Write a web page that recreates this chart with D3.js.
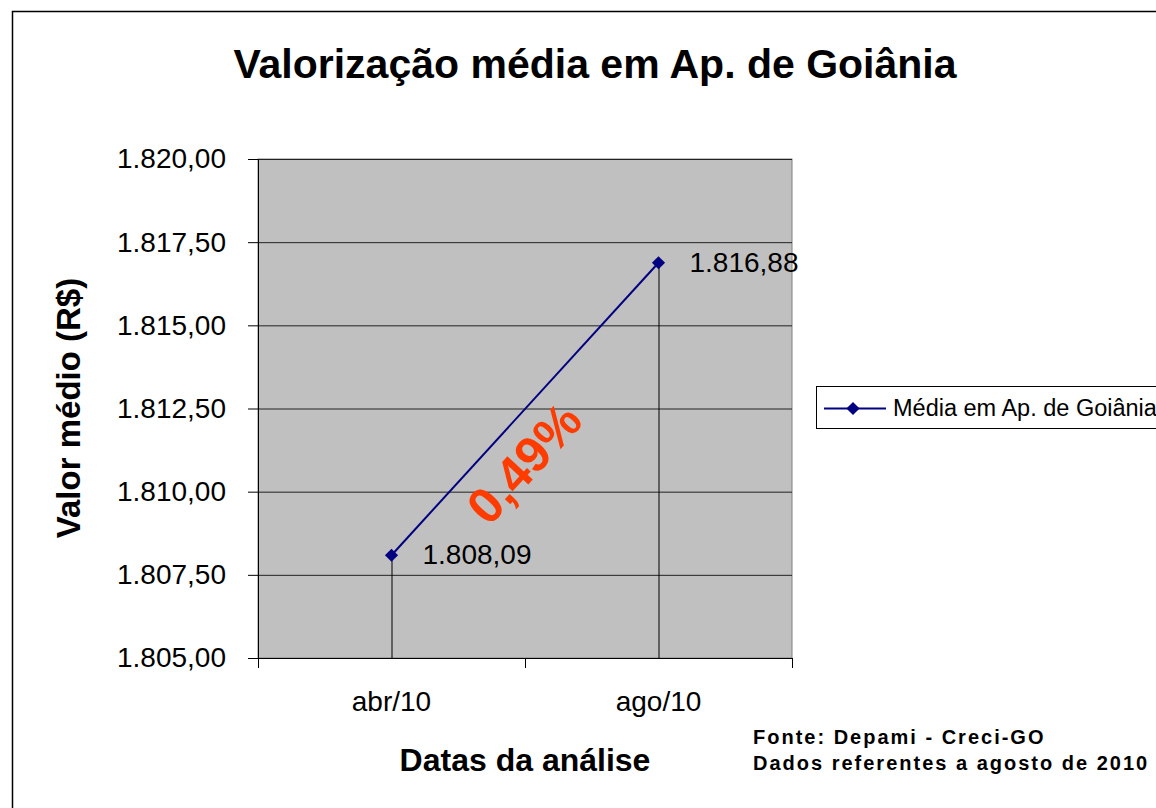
<!DOCTYPE html>
<html>
<head>
<meta charset="utf-8">
<script src="https://cdn.jsdelivr.net/npm/d3@7"></script>
<style>
  body { margin: 0; background: #fff; }
  text { font-family: "Liberation Sans", Arial, sans-serif; }
</style>
</head>
<body>
<svg id="chart"></svg>
<script>
// values
const categories = ["abr/10", "ago/10"]
const values = [1808.09, 1816.88]
const valueLabels = ["1.808,09", "1.816,88"]
const yTicks = [1805, 1807.5, 1810, 1812.5, 1815, 1817.5, 1820]
const seriesName = "Média em Ap. de Goiânia"

// pt-BR style number: 1.820,00
const fmt = d => d3.format(",.2f")(d).replace(/,/g, "X").replace(/\./g, ",").replace(/X/g, ".")

const width = 1156, height = 808
const plot = { left: 258, right: 792, top: 159, bottom: 658 }

const svg = d3.select("#chart")
    .attr("width", width)
    .attr("height", height)

// outer chart border (right/bottom go off the page)
svg.append("rect")
    .attr("x", 12.5).attr("y", 11.5)
    .attr("width", 1160).attr("height", 820)
    .attr("fill", "#fff")
    .attr("stroke", "#000")
    .attr("stroke-width", 1.5)

const yScale = d3.scaleLinear()
    .domain([1805, 1820])
    .range([plot.bottom, plot.top])

// each category centred in its half of the plot
const xScale = d3.scalePoint()
    .domain(categories)
    .range([plot.left, plot.right])
    .padding(0.5)

svg.append("rect")
    .attr("x", plot.left).attr("y", plot.top)
    .attr("width", plot.right - plot.left)
    .attr("height", plot.bottom - plot.top)
    .attr("fill", "#c0c0c0")
    .attr("stroke", "#808080")

// gridlines
svg.append("g").selectAll("line")
  .data(yTicks)
  .join("line")
    .attr("x1", plot.left).attr("x2", plot.right)
    .attr("y1", d => yScale(d) + 0.5).attr("y2", d => yScale(d) + 0.5)
    .attr("stroke", "#222")

const yAxis = svg.append("g")
    .attr("transform", `translate(${plot.left},0)`)
    .call(d3.axisLeft(yScale).tickValues(yTicks).tickFormat(fmt).tickSize(10).tickPadding(22))
yAxis.selectAll("text")
    .attr("font-size", 28).attr("fill", "#000")
    .attr("font-family", "Liberation Sans, Arial, sans-serif")
yAxis.selectAll("line, path").attr("stroke", "#000")

// x axis: ticks at category boundaries
const xBoundaries = [plot.left, (plot.left + plot.right) / 2, plot.right]
const xAxisG = svg.append("g")
xAxisG.append("line")
    .attr("x1", plot.left - 10).attr("x2", plot.right)
    .attr("y1", plot.bottom + 0.5).attr("y2", plot.bottom + 0.5)
    .attr("stroke", "#000")
xAxisG.selectAll(".tk")
  .data(xBoundaries)
  .join("line")
    .attr("x1", d => d + 0.5).attr("x2", d => d + 0.5)
    .attr("y1", plot.bottom).attr("y2", plot.bottom + 10)
    .attr("stroke", "#000")
xAxisG.selectAll("text")
  .data(categories)
  .join("text")
    .attr("x", d => xScale(d))
    .attr("y", 711)
    .attr("text-anchor", "middle")
    .attr("font-size", 28)
    .text(d => d)

const data = categories.map((c, i) => ({ cat: c, value: values[i], label: valueLabels[i] }))

// drop lines
svg.append("g").selectAll("line")
  .data(data)
  .join("line")
    .attr("x1", d => xScale(d.cat) + 0.5).attr("x2", d => xScale(d.cat) + 0.5)
    .attr("y1", d => yScale(d.value)).attr("y2", plot.bottom)
    .attr("stroke", "#000")

const lineGenerator = d3.line()
    .x(d => xScale(d.cat))
    .y(d => yScale(d.value))

svg.append("path")
    .attr("d", lineGenerator(data))
    .attr("fill", "none")
    .attr("stroke", "#000080")
    .attr("stroke-width", 2)

const diamond = d3.symbol().type(d3.symbolDiamond2).size(110)
svg.append("g").selectAll("path")
  .data(data)
  .join("path")
    .attr("d", diamond)
    .attr("transform", d => `translate(${xScale(d.cat)},${yScale(d.value)})`)
    .attr("fill", "#000080")

svg.append("g").selectAll("text")
  .data(data)
  .join("text")
    .attr("x", d => xScale(d.cat) + 31)
    .attr("y", d => yScale(d.value) + 9)
    .attr("font-size", 28)
    .text(d => d.label)

// percentage change annotation, rotated along the line
const mid = {
  x: (xScale(categories[0]) + xScale(categories[1])) / 2,
  y: (yScale(values[0]) + yScale(values[1])) / 2
}
const pct = (values[1] / values[0] - 1) * 100
svg.append("text")
    .attr("transform", `translate(${mid.x + 12},${mid.y + 66}) rotate(-47.5)`)
    .attr("text-anchor", "middle")
    .attr("font-size", 50)
    .attr("font-weight", "bold")
    .attr("fill", "#ff3c00")
    .text(pct.toFixed(2).replace(".", ",") + "%")

// titles
svg.append("text")
    .attr("x", 595).attr("y", 78)
    .attr("text-anchor", "middle")
    .attr("font-size", 41).attr("font-weight", "bold")
    .text("Valorização média em Ap. de Goiânia")

svg.append("text")
    .attr("transform", `translate(80,408) rotate(-90)`)
    .attr("text-anchor", "middle")
    .attr("font-size", 33).attr("font-weight", "bold")
    .text("Valor médio (R$)")

svg.append("text")
    .attr("x", 525).attr("y", 771)
    .attr("text-anchor", "middle")
    .attr("font-size", 32).attr("font-weight", "bold")
    .text("Datas da análise")

// legend
const legend = svg.append("g").attr("transform", "translate(816,386)")
legend.append("rect")
    .attr("x", 0.5).attr("y", 0.5)
    .attr("width", 400).attr("height", 42)
    .attr("fill", "#fff").attr("stroke", "#000")
legend.append("line")
    .attr("x1", 8).attr("x2", 70)
    .attr("y1", 22.5).attr("y2", 22.5)
    .attr("stroke", "#000080").attr("stroke-width", 2)
legend.append("path")
    .attr("d", diamond)
    .attr("transform", "translate(37,22.5)")
    .attr("fill", "#000080")
legend.append("text")
    .attr("x", 77).attr("y", 30)
    .attr("font-size", 23.5)
    .text(seriesName)

// source note
const note = svg.append("g")
    .attr("font-size", 20).attr("font-weight", "bold")
    .attr("letter-spacing", 2)
note.append("text").attr("x", 753).attr("y", 744).text("Fonte: Depami - Creci-GO")
note.append("text").attr("x", 753).attr("y", 770).text("Dados referentes a agosto de 2010")
</script>
</body>
</html>
